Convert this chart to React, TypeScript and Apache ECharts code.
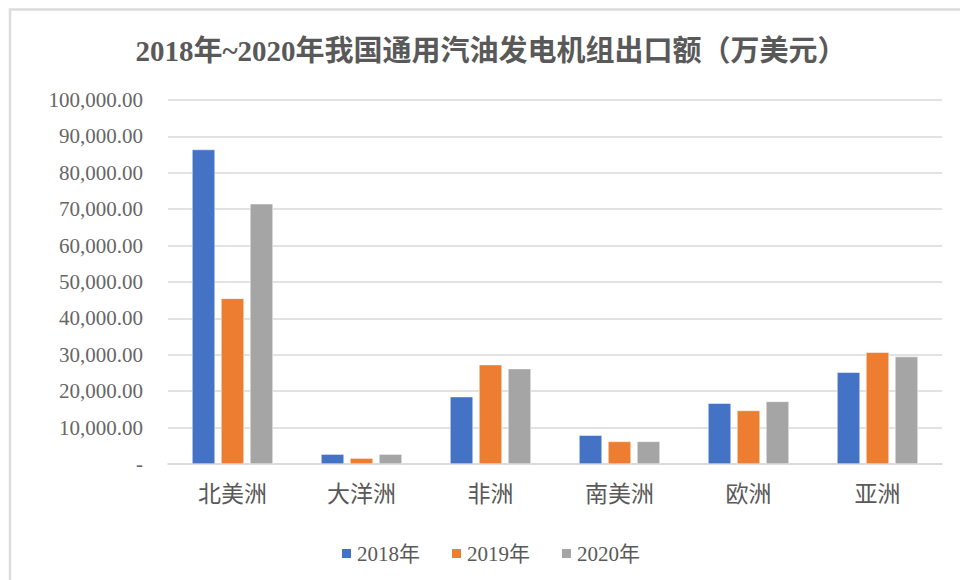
import React, { useEffect, useRef } from "react";
import * as echarts from "echarts";

const categories = ["北美洲", "大洋洲", "非洲", "南美洲", "欧洲", "亚洲"];
const seriesNames = ["2018年", "2019年", "2020年"];
const values2018 = [86400, 2700, 18500, 7900, 16700, 25200];
const values2019 = [45500, 1600, 27300, 6200, 14700, 30700];
const values2020 = [71500, 2700, 26200, 6200, 17200, 29500];
const colors = ["#4472C4", "#ED7D31", "#A5A5A5"];
const titleText = "2018年~2020年我国通用汽油发电机组出口额（万美元）";

const FONT = "'Liberation Serif', 'Times New Roman', 'Noto Sans CJK SC', serif";

export default function App() {
  const ref = useRef<HTMLDivElement>(null);
  useEffect(() => {
    if (!ref.current) return;
    const chart = echarts.init(ref.current, null, { renderer: "svg" });
    const data = [values2018, values2019, values2020];
    chart.setOption({
      animation: false,
      backgroundColor: "#ffffff",
      graphic: [
        {
          type: "rect",
          shape: { x: 10, y: 9.5, width: 980, height: 600 },
          style: { fill: "none", stroke: "#dcdcdc", lineWidth: 2.5 },
          silent: true,
        },
        {
          type: "text",
          x: 491,
          y: 51,
          style: {
            text: titleText,
            fontFamily: FONT,
            fontSize: 29,
            fontWeight: "bold",
            fill: "#595959",
            align: "center",
            verticalAlign: "middle",
          },
          silent: true,
        },
      ],
      legend: {
        data: seriesNames,
        top: 538,
        left: 335,
        itemWidth: 11,
        itemHeight: 11,
        itemGap: 30,
        icon: "rect",
        textStyle: { fontFamily: FONT, fontSize: 21, color: "#595959", padding: [0, 0, 0, 0] },
      },
      grid: { left: 168, right: 18, top: 100, bottom: 116 },
      xAxis: {
        type: "category",
        data: categories,
        axisLine: { lineStyle: { color: "#d9d9d9", width: 1.5 } },
        axisTick: { show: false },
        axisLabel: {
          fontFamily: FONT,
          fontSize: 23,
          color: "#595959",
          margin: 19,
        },
      },
      yAxis: {
        type: "value",
        min: 0,
        max: 100000,
        interval: 10000,
        axisLine: { show: false },
        axisTick: { show: false },
        splitLine: { lineStyle: { color: "#d9d9d9", width: 1.5 } },
        axisLabel: {
          fontFamily: FONT,
          fontSize: 21,
          color: "#666666",
          margin: 25,
          formatter: (v: number) =>
            v === 0
              ? "-"
              : v.toLocaleString("en-US", {
                  minimumFractionDigits: 2,
                  maximumFractionDigits: 2,
                }),
        },
      },
      series: seriesNames.map((name, i) => ({
        name,
        type: "bar",
        data: data[i],
        barWidth: 23,
        barGap: "26%",
        itemStyle: { color: colors[i], borderColor: "#ffffff", borderWidth: 0.5 },
      })),
    });
    return () => chart.dispose();
  }, []);
  return (
    <div
      ref={ref}
      style={{ position: "absolute", left: 0, top: 0, width: 960, height: 580 }}
    />
  );
}
